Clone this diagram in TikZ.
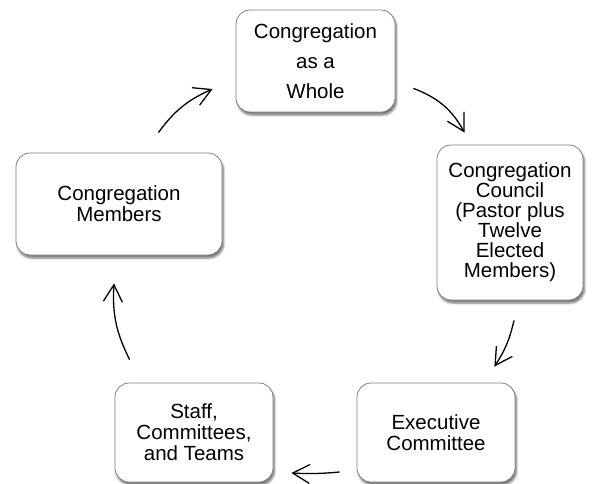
\documentclass[tikz,border=0pt]{standalone}
\usepackage{fontspec}
\setmainfont{Liberation Sans}
\usetikzlibrary{arrows.meta,shadows.blur}
\begin{document}
\begin{tikzpicture}[x=1pt,y=-1pt,
  box/.style={draw=black!50, line width=0.8pt, rounded corners=14pt, fill=white,
    align=center, inner sep=0pt, font=\fontsize{20.5}{21}\selectfont,
    blur shadow={shadow xshift=1.5pt, shadow yshift=-3pt, shadow blur steps=6, shadow opacity=55}},
  conn/.style={line width=1.3pt, -{Straight Barb[length=17pt,width=19pt]}}]
\useasboundingbox (0,0) rectangle (592,483);
\node[box, minimum width=159pt, minimum height=102pt] (b1) at (315.5,61)
  {Congregation\\[9pt]as a\\[9pt]Whole};
\node[box, minimum width=146pt, minimum height=155pt, font=\fontsize{20.5}{20}\selectfont] (b2) at (510,222.5)
  {Congregation\\Council\\(Pastor plus\\Twelve\\Elected\\Members)};
\node[box, minimum width=206pt, minimum height=102pt] (b3) at (119,204)
  {Congregation\\Members};
\node[box, minimum width=158pt, minimum height=99pt] (b4) at (194,432.5)
  {Staff,\\Committees,\\and Teams};
\node[box, minimum width=158pt, minimum height=99pt] (b5) at (436,432.5)
  {Executive\\Committee};
\draw[conn] ([shift={(18,-24)}]b1.south east) to[bend left=20] ([shift={(28,-12)}]b2.north west);
\draw[conn] ([shift={(4,20)}]b2.south) to[bend left=10] ([shift={(-21,-16)}]b5.north east);
\draw[conn] ([shift={(-17,39.5)}]b5.west) to[bend left=4] ([shift={(18,40.5)}]b4.east);
\draw[conn] ([shift={(15,-23)}]b4.north west) to[bend left=15] ([shift={(-5,28)}]b3.south);
\draw[conn] ([shift={(-64,-20)}]b3.north east) to[bend left=15] ([shift={(-23,28)}]b1.west);
\end{tikzpicture}
\end{document}
